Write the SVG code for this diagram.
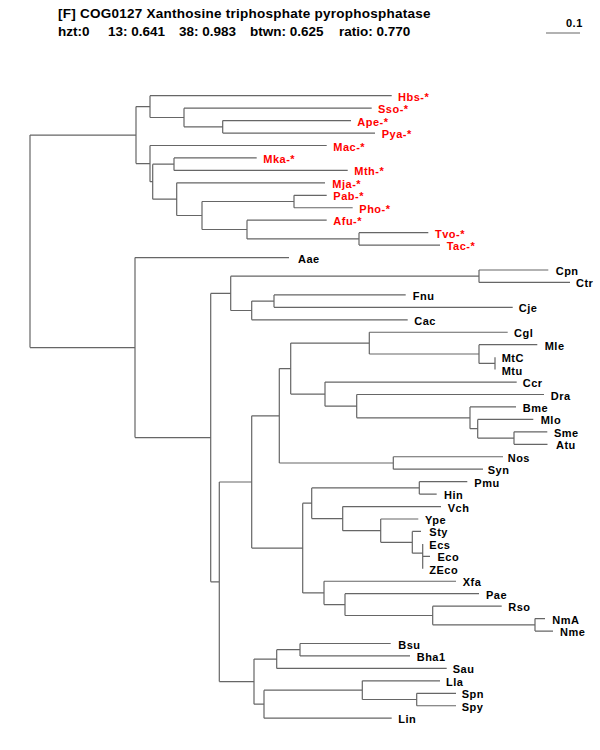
<svg xmlns="http://www.w3.org/2000/svg" width="600" height="750" viewBox="0 0 600 750">
<style>
.t{font-family:"Liberation Sans",Arial,sans-serif;font-weight:bold;font-size:13.5px;fill:#000}
.l{font-family:"Liberation Sans",Arial,sans-serif;font-weight:bold;font-size:11px;letter-spacing:0.5px;fill:#000}
.r{font-family:"Liberation Sans",Arial,sans-serif;font-weight:bold;font-size:11px;letter-spacing:0.5px;fill:#ff0000}
.e{fill:none;stroke:#666;stroke-width:1.2}
</style>
<rect width="600" height="750" fill="#fff"/>
<g id="header">
<text class="t" x="58" y="18" style="letter-spacing:0.25px">[F] COG0127 Xanthosine triphosphate pyrophosphatase</text>
<text class="t" x="58" y="36">hzt:0</text>
<text class="t" x="108" y="36">13: 0.641</text>
<text class="t" x="179" y="36">38: 0.983</text>
<text class="t" x="250" y="36">btwn: 0.625</text>
<text class="t" x="339" y="36">ratio: 0.770</text>
</g>
<g id="scale">
<path class="e" d="M546 33H580"/>
<text class="l" x="566" y="27">0.1</text>
</g>
<g id="connectors">
<path class="e" d="M30 135.1V347.6
M30 135.1H136M136 106.6V163.6
M136 106.6H150M150 95.7V117.5
M150 95.7H391.7
M150 117.5H184M184 108.15V126.8
M184 108.15H371.7
M184 126.8H222.7M222.7 120.6V133.05
M222.7 120.6H351M222.7 133.05H375
M136 163.6H150M150 145.5V181.7
M150 145.5H326.7
M150 181.7H152.7M152.7 164.2V199.2
M152.7 164.2H174M174 157.95V170.4
M174 157.95H256.7M174 170.4H347.7
M152.7 199.2H176.7M176.7 182.85V215.5
M176.7 182.85H325
M176.7 215.5H202M202 201.5V229.5
M202 201.5H294M294 195.3V207.75
M294 195.3H326.7M294 207.75H352.7
M202 229.5H247M247 220.2V238.9
M247 220.2H326.7
M247 238.9H359M359 232.65V245.1
M359 232.65H428.3M359 245.1H440"/>
<path class="e" d="M30 347.6H135M135 257.55V437.6
M135 257.55H289
M135 437.6H210.7M210.7 293.4V581.8
M210.7 293.4H230.7M230.7 276.2V310.5
M230.7 276.2H479M479 270V282.45
M479 270H548.3M479 282.45H570
M230.7 310.5H251.7M251.7 301.1V319.8
M251.7 301.1H274M274 294.9V307.35
M274 294.9H405.7M274 307.35H512.7
M251.7 319.8H407.7
M210.7 581.8H219.3M219.3 482V681.6
M219.3 482H251.7M251.7 415.8V548.1
M251.7 415.8H279.3M279.3 368.6V463
M279.3 368.6H290.7M290.7 343.1V394.1
M290.7 343.1H369.3M369.3 332.25V354
M369.3 332.25H507.7
M369.3 354H479M479 344.7V363.4
M479 344.7H537.3
M479 363.4H495M495 357.15V369.6
M290.7 394.1H325M325 382.05V406.2
M325 382.05H516.7
M325 406.2H356.7M356.7 394.5V417.8
M356.7 394.5H544
M356.7 417.8H470M470 406.95V428.7
M470 406.95H516
M470 428.7H477.7M477.7 419.4V438.1
M477.7 419.4H533.3
M477.7 438.1H514M514 431.85V444.3
M514 431.85H547.3M514 444.3H547.5
M279.3 463H393.3M393.3 456.75V469.2
M393.3 456.75H503M393.3 469.2H483
M251.7 548.1H302.7M302.7 503.2V592.9
M302.7 503.2H311.7M311.7 487.9V518.6
M311.7 487.9H419.3M419.3 481.65V494.1
M419.3 481.65H467.3M419.3 494.1H436.7
M311.7 518.6H342.7M342.7 506.55V530.7
M342.7 506.55H441
M342.7 530.7H380.7M380.7 519V542.3
M380.7 519H418.3
M380.7 542.3H412.3M412.3 531.45V553.2
M412.3 531.45H421
M412.3 553.2H422.7M422.7 543.9V568.8
M422.7 556.35H430
M302.7 592.9H324M324 581.25V604.6
M324 581.25H456
M324 604.6H345M345 593.7V615.5
M345 593.7H479
M345 615.5H432.7M432.7 606.15V624.8
M432.7 606.15H501.7
M432.7 624.8H535M535 618.6V631.05
M535 618.6H545M535 631.05H553
M219.3 681.6H254M254 659.1V704.2
M254 659.1H276.7M276.7 649.7V668.4
M276.7 649.7H300M300 643.5V655.95
M300 643.5H390.7M300 655.95H410
M276.7 668.4H446.7
M254 704.2H264M264 690.2V718.2
M264 690.2H362.3M362.3 680.85V699.5
M362.3 680.85H440
M362.3 699.5H416.7M416.7 693.3V705.75
M416.7 693.3H456M416.7 705.75H456
M264 718.2H391.7"/>
</g>
<g id="Hbs"><text class="r" x="398" y="100.7">Hbs-*</text></g>
<g id="Sso"><text class="r" x="378" y="113.15">Sso-*</text></g>
<g id="Ape"><text class="r" x="357.3" y="125.6">Ape-*</text></g>
<g id="Pya"><text class="r" x="381.7" y="138.05">Pya-*</text></g>
<g id="Mac"><text class="r" x="333.3" y="150.5">Mac-*</text></g>
<g id="Mka"><text class="r" x="263.3" y="162.95">Mka-*</text></g>
<g id="Mth"><text class="r" x="354.3" y="175.4">Mth-*</text></g>
<g id="Mja"><text class="r" x="332.3" y="187.85">Mja-*</text></g>
<g id="Pab"><text class="r" x="333.3" y="200.3">Pab-*</text></g>
<g id="Pho"><text class="r" x="359.3" y="212.75">Pho-*</text></g>
<g id="Afu"><text class="r" x="333.3" y="225.2">Afu-*</text></g>
<g id="Tvo"><text class="r" x="435" y="237.65">Tvo-*</text></g>
<g id="Tac"><text class="r" x="446.7" y="250.1">Tac-*</text></g>
<g id="Aae"><text class="l" x="298" y="262.55">Aae</text></g>
<g id="Cpn"><text class="l" x="555.7" y="275">Cpn</text></g>
<g id="Ctr"><text class="l" x="576" y="287.45">Ctr</text></g>
<g id="Fnu"><text class="l" x="412.7" y="299.9">Fnu</text></g>
<g id="Cje"><text class="l" x="518.7" y="312.35">Cje</text></g>
<g id="Cac"><text class="l" x="414.3" y="324.8">Cac</text></g>
<g id="Cgl"><text class="l" x="514" y="337.25">Cgl</text></g>
<g id="Mle"><text class="l" x="544.7" y="349.7">Mle</text></g>
<g id="MtC"><text class="l" x="501.7" y="362.15">MtC</text></g>
<g id="Mtu"><text class="l" x="501.7" y="374.6">Mtu</text></g>
<g id="Ccr"><text class="l" x="522.7" y="387.05">Ccr</text></g>
<g id="Dra"><text class="l" x="550.7" y="399.5">Dra</text></g>
<g id="Bme"><text class="l" x="522.7" y="411.95">Bme</text></g>
<g id="Mlo"><text class="l" x="540.7" y="424.4">Mlo</text></g>
<g id="Sme"><text class="l" x="554" y="436.85">Sme</text></g>
<g id="Atu"><text class="l" x="556" y="449.3">Atu</text></g>
<g id="Nos"><text class="l" x="507.7" y="461.75">Nos</text></g>
<g id="Syn"><text class="l" x="487.7" y="474.2">Syn</text></g>
<g id="Pmu"><text class="l" x="474.3" y="486.65">Pmu</text></g>
<g id="Hin"><text class="l" x="444" y="499.1">Hin</text></g>
<g id="Vch"><text class="l" x="447.7" y="511.55">Vch</text></g>
<g id="Ype"><text class="l" x="425" y="524">Ype</text></g>
<g id="Sty"><text class="l" x="429.3" y="536.45">Sty</text></g>
<g id="Ecs"><text class="l" x="429.3" y="548.9">Ecs</text></g>
<g id="Eco"><text class="l" x="437.5" y="561.35">Eco</text></g>
<g id="ZEco"><text class="l" x="429.3" y="573.8">ZEco</text></g>
<g id="Xfa"><text class="l" x="462.7" y="586.25">Xfa</text></g>
<g id="Pae"><text class="l" x="486" y="598.7">Pae</text></g>
<g id="Rso"><text class="l" x="508.3" y="611.15">Rso</text></g>
<g id="NmA"><text class="l" x="552.3" y="623.6">NmA</text></g>
<g id="Nme"><text class="l" x="560" y="636.05">Nme</text></g>
<g id="Bsu"><text class="l" x="398.3" y="648.5">Bsu</text></g>
<g id="Bha1"><text class="l" x="416.7" y="660.95">Bha1</text></g>
<g id="Sau"><text class="l" x="452.7" y="673.4">Sau</text></g>
<g id="Lla"><text class="l" x="446" y="685.85">Lla</text></g>
<g id="Spn"><text class="l" x="461.7" y="698.3">Spn</text></g>
<g id="Spy"><text class="l" x="461.7" y="710.75">Spy</text></g>
<g id="Lin"><text class="l" x="398.3" y="723.2">Lin</text></g>
</svg>
